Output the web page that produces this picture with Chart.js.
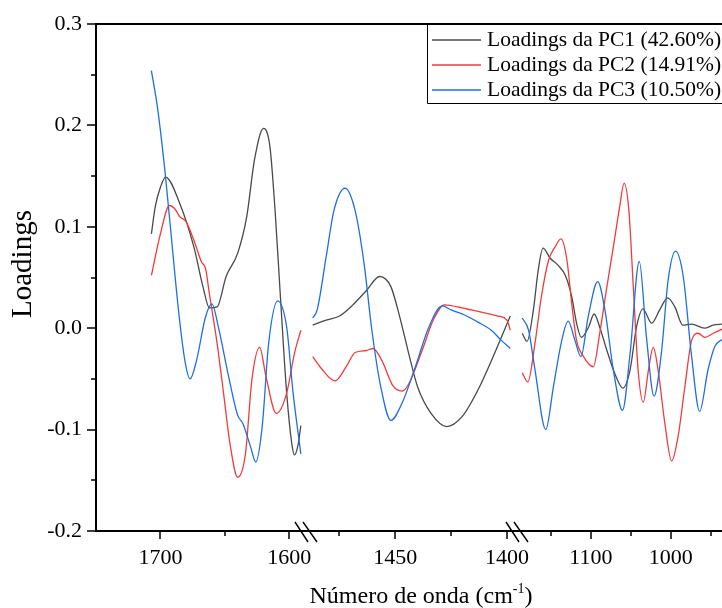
<!DOCTYPE html>
<html>
<head>
<meta charset="utf-8">
<title>Loadings PCA</title>
<script src="https://cdn.jsdelivr.net/npm/chart.js@4.4.1/dist/chart.umd.min.js"></script>
<style>
  html, body { margin: 0; padding: 0; background: #fff; }
</style>
</head>
<body>
<canvas id="loadingsChart" width="722" height="608"></canvas>
<script>
// series labels and colours
var SERIES = ["Loadings da PC1 (42.60%)", "Loadings da PC2 (14.91%)", "Loadings da PC3 (10.50%)"];
var COLORS = ["#4a4a4a", "#f23b3b", "#1f6fe3"];
var X_TITLE = "Número de onda (cm";
var X_TITLE_SUP = "-1";
var Y_TITLE = "Loadings";

// broken x axis: three wavenumber windows (cm-1)
var RANGE_A = [1750, 1587];
var RANGE_B = [1490, 1395.5];
var RANGE_C = [1192.5, 936];
var TICKS_A = [1700, 1650, 1600];
var TICKS_B = [1475, 1450, 1425, 1400];
var TICKS_C = [1150, 1100, 1050, 1000, 950];
var X_LABELS = [1700, 1600, 1450, 1400, 1100, 1000];
var Y_TICKS = [-0.2, -0.15, -0.1, -0.05, 0, 0.05, 0.1, 0.15, 0.2, 0.25, 0.3];
var Y_LABELS = [-0.2, -0.1, 0, 0.1, 0.2, 0.3];

// window A (1710 - 1590)
var PC1_A_WN = [1707, 1704, 1700, 1696, 1685, 1674, 1667, 1662, 1656, 1649, 1640, 1633, 1627, 1620, 1615, 1611, 1607, 1602, 1598, 1596, 1593, 1591];
var PC1_A = [0.093, 0.120, 0.139, 0.149, 0.123, 0.080, 0.041, 0.020, 0.021, 0.051, 0.074, 0.110, 0.166, 0.197, 0.179, 0.116, 0.034, -0.064, -0.114, -0.125, -0.114, -0.096];
var PC2_A_WN = [1707, 1700, 1693, 1689, 1685, 1680, 1673, 1668, 1665, 1662, 1656, 1651, 1646, 1640, 1634, 1629, 1623, 1618, 1610, 1602, 1596, 1591];
var PC2_A = [0.052, 0.093, 0.121, 0.118, 0.110, 0.105, 0.083, 0.065, 0.059, 0.034, -0.015, -0.064, -0.114, -0.147, -0.124, -0.051, -0.019, -0.048, -0.084, -0.064, -0.025, -0.002];
var PC3_A_WN = [1707, 1702, 1696, 1691, 1686, 1681, 1677, 1672, 1665, 1660, 1655, 1647, 1640, 1636, 1630, 1626, 1621, 1616, 1609, 1602, 1597, 1591];
var PC3_A = [0.254, 0.215, 0.149, 0.083, 0.018, -0.032, -0.050, -0.032, 0.011, 0.024, 0.001, -0.048, -0.086, -0.094, -0.117, -0.132, -0.097, -0.015, 0.027, 0.001, -0.064, -0.124];

// window B (1487 - 1398)
var PC1_B_WN = [1487, 1481, 1475, 1469, 1463, 1457, 1452, 1448, 1444, 1440, 1434, 1427, 1420, 1413, 1405, 1398.5];
var PC1_B = [0.003, 0.008, 0.012, 0.023, 0.037, 0.051, 0.041, 0.011, -0.025, -0.058, -0.084, -0.097, -0.087, -0.061, -0.022, 0.012];
var PC2_B_WN = [1487, 1483, 1477, 1472, 1468, 1463, 1460, 1456, 1451, 1447, 1444, 1438, 1433, 1428, 1420, 1416, 1410, 1404, 1400, 1398.5];
var PC2_B = [-0.028, -0.040, -0.052, -0.038, -0.024, -0.022, -0.020, -0.032, -0.057, -0.062, -0.055, -0.022, 0.008, 0.023, 0.020, 0.018, 0.015, 0.012, 0.008, -0.002];
var PC3_B_WN = [1487, 1485, 1481, 1477.5, 1472.5, 1468, 1464, 1460.5, 1456.5, 1452, 1447, 1441, 1435, 1429, 1425, 1419, 1413, 1407, 1402.5, 1398.5];
var PC3_B = [0.010, 0.018, 0.070, 0.116, 0.138, 0.116, 0.064, -0.002, -0.058, -0.091, -0.074, -0.038, 0.001, 0.022, 0.018, 0.013, 0.006, -0.002, -0.012, -0.020];

// window C (1186 - 936)
var PC1_C_WN = [1186, 1180, 1172, 1166, 1160, 1151, 1141, 1132, 1124, 1118, 1112, 1103, 1096, 1089, 1080, 1070, 1060, 1051, 1043, 1035, 1024, 1014, 1004, 995, 985, 974, 958, 947, 936];
var PC1_C = [-0.005, -0.013, 0.018, 0.057, 0.079, 0.069, 0.062, 0.052, 0.031, 0.005, -0.009, 0.001, 0.014, 0.001, -0.022, -0.045, -0.059, -0.041, 0.001, 0.019, 0.005, 0.018, 0.030, 0.021, 0.003, 0.004, 0.000, 0.003, 0.004];
var PC2_C_WN = [1186, 1179, 1170, 1162, 1153, 1145, 1137.5, 1130, 1124, 1118, 1110, 1097, 1089, 1080, 1072, 1064, 1058.5, 1052.5, 1047, 1041, 1034.5, 1028, 1022, 1016, 1007.5, 999, 991, 982.5, 974, 966, 957.5, 947, 936];
var PC2_C = [-0.044, -0.053, -0.015, 0.031, 0.067, 0.080, 0.088, 0.067, 0.024, -0.012, -0.027, -0.038, -0.005, 0.041, 0.080, 0.120, 0.143, 0.116, 0.041, -0.041, -0.073, -0.041, -0.019, -0.041, -0.094, -0.131, -0.107, -0.058, -0.012, -0.005, -0.009, -0.005, -0.001];
var PC3_C_WN = [1186, 1178, 1170, 1156.5, 1147, 1136.5, 1128.5, 1120, 1112.5, 1103.5, 1091.5, 1082.5, 1072, 1060.5, 1051, 1039.5, 1030.5, 1021, 1011.5, 1003.5, 994, 984.5, 974, 964, 953.5, 945, 936];
var PC3_C = [0.010, -0.002, -0.041, -0.100, -0.058, -0.012, 0.007, -0.012, -0.028, 0.011, 0.046, 0.018, -0.041, -0.081, -0.025, 0.066, -0.009, -0.067, -0.022, 0.047, 0.076, 0.051, -0.028, -0.082, -0.041, -0.018, -0.011];

var FONT = "'Liberation Serif', 'Times New Roman', serif";
Chart.defaults.font.family = FONT;
Chart.defaults.color = '#000';

function points(wn, vals) {
    return wn.map(function (x, i) { return { x: x, y: vals[i] }; });
}

function line(s, axis, wn, vals) {
    return {
        label: SERIES[s],
        data: points(wn, vals),
        xAxisID: axis,
        yAxisID: 'y',
        borderColor: COLORS[s],
        borderWidth: 1.3,
        pointRadius: 0,
        fill: false,
        cubicInterpolationMode: 'monotone',
        order: 2 - s
    };
}

function xAxis(range, tickList, weight) {
    return {
        type: 'linear',
        position: 'bottom',
        stack: 'wn',
        stackWeight: weight,
        reverse: true,
        min: range[1],
        max: range[0],
        afterBuildTicks: function (scale) {
            scale.ticks = tickList.map(function (v) { return { value: v }; });
        },
        afterFit: function (scale) {
            scale.height = 77;
            scale.paddingLeft = 0;
            scale.paddingRight = 0;
        },
        grid: { display: false, drawTicks: false },
        border: { display: false },
        ticks: {
            autoSkip: false,
            maxRotation: 0,
            padding: 14,
            font: { size: 22 },
            color: '#000',
            callback: function (v) { return X_LABELS.indexOf(v) >= 0 ? String(v) : ''; }
        }
    };
}

// axis frame, tick marks, break marks, axis titles and the boxed legend
var decorations = {
    id: 'decorations',
    afterDraw: function (chart) {
        var ctx = chart.ctx;
        var a = chart.chartArea;
        ctx.save();
        ctx.strokeStyle = '#000';
        ctx.lineWidth = 2;
        ctx.beginPath();
        ctx.moveTo(a.left, a.top); ctx.lineTo(a.right, a.top);
        ctx.moveTo(a.left, a.top - 1); ctx.lineTo(a.left, a.bottom);
        ctx.lineTo(a.right, a.bottom);
        ctx.stroke();

        var y = chart.scales.y;
        ctx.lineWidth = 1.5;
        ctx.beginPath();
        y.ticks.forEach(function (t) {
            var py = Math.round(y.getPixelForValue(t.value));
            var len = Y_LABELS.indexOf(t.value) >= 0 ? 9 : 5;
            ctx.moveTo(a.left - len, py); ctx.lineTo(a.left, py);
        });
        ['xa', 'xb', 'xc'].forEach(function (id) {
            var s = chart.scales[id];
            s.ticks.forEach(function (t) {
                var px = Math.round(s.getPixelForValue(t.value));
                var len = X_LABELS.indexOf(t.value) >= 0 ? 8 : 5;
                ctx.moveTo(px, a.bottom); ctx.lineTo(px, a.bottom + len);
            });
        });
        ctx.stroke();

        // break marks
        ctx.lineWidth = 1.4;
        ctx.beginPath();
        ['xb', 'xc'].forEach(function (id) {
            var bx = chart.scales[id].left;
            ctx.moveTo(bx - 11, a.bottom - 9); ctx.lineTo(bx + 2, a.bottom + 11);
            ctx.moveTo(bx - 3, a.bottom - 9); ctx.lineTo(bx + 11, a.bottom + 11);
        });
        ctx.stroke();

        // axis titles
        ctx.fillStyle = '#000';
        ctx.textBaseline = 'middle';
        ctx.textAlign = 'left';
        ctx.font = '24px ' + FONT;
        var w1 = ctx.measureText(X_TITLE).width;
        ctx.font = '14px ' + FONT;
        var w2 = ctx.measureText(X_TITLE_SUP).width;
        ctx.font = '24px ' + FONT;
        var w3 = ctx.measureText(')').width;
        var tx = 421 - (w1 + w2 + w3) / 2;
        var ty = 597;
        ctx.fillText(X_TITLE, tx, ty);
        ctx.font = '14px ' + FONT;
        ctx.fillText(X_TITLE_SUP, tx + w1, ty - 8);
        ctx.font = '24px ' + FONT;
        ctx.fillText(')', tx + w1 + w2, ty);

        ctx.save();
        ctx.translate(23, 264);
        ctx.rotate(-Math.PI / 2);
        ctx.textAlign = 'center';
        ctx.font = '29px ' + FONT;
        ctx.fillText(Y_TITLE, 0, 0);
        ctx.restore();

        // legend
        var lx = 427, ly = 23, lh = 80;
        ctx.fillStyle = '#fff';
        ctx.fillRect(lx, ly, a.right - lx, lh);
        ctx.lineWidth = 1;
        ctx.strokeStyle = '#000';
        ctx.beginPath();
        ctx.moveTo(lx + 0.5, ly); ctx.lineTo(lx + 0.5, ly + lh + 0.5); ctx.lineTo(a.right, ly + lh + 0.5);
        ctx.stroke();
        ctx.font = '21.5px ' + FONT;
        ctx.textBaseline = 'middle';
        ctx.textAlign = 'left';
        SERIES.forEach(function (name, i) {
            var ry = 40 + i * 25;
            ctx.strokeStyle = COLORS[i];
            ctx.lineWidth = 1.3;
            ctx.beginPath();
            ctx.moveTo(432, ry); ctx.lineTo(481, ry);
            ctx.stroke();
            ctx.fillStyle = '#000';
            ctx.fillText(name, 487, ry);
        });
        ctx.strokeStyle = '#000';
        ctx.lineWidth = 2;
        ctx.beginPath();
        ctx.moveTo(a.left, a.top); ctx.lineTo(a.right, a.top);
        ctx.stroke();
        ctx.restore();
    }
};

var ctxL = document.getElementById('loadingsChart').getContext('2d');
var loadingsChart = new Chart(ctxL, {
    type: 'line',
    plugins: [decorations],
    data: {
        datasets: [
            line(0, 'xa', PC1_A_WN, PC1_A), line(1, 'xa', PC2_A_WN, PC2_A), line(2, 'xa', PC3_A_WN, PC3_A),
            line(0, 'xb', PC1_B_WN, PC1_B), line(1, 'xb', PC2_B_WN, PC2_B), line(2, 'xb', PC3_B_WN, PC3_B),
            line(0, 'xc', PC1_C_WN, PC1_C), line(1, 'xc', PC2_C_WN, PC2_C), line(2, 'xc', PC3_C_WN, PC3_C)
        ]
    },
    options: {
        responsive: false,
        animation: false,
        devicePixelRatio: 1,
        layout: { padding: { top: 24, right: 0, bottom: 0, left: 0 } },
        plugins: {
            legend: { display: false },
            tooltip: { enabled: false }
        },
        scales: {
            xa: xAxis(RANGE_A, TICKS_A, 210),
            xb: xAxis(RANGE_B, TICKS_B, 211),
            xc: xAxis(RANGE_C, TICKS_C, 205),
            y: {
                type: 'linear',
                position: 'left',
                min: -0.2,
                max: 0.3,
                afterBuildTicks: function (scale) {
                    scale.ticks = Y_TICKS.map(function (v) { return { value: v }; });
                },
                afterFit: function (scale) {
                    scale.width = 96;
                    scale.paddingTop = 0;
                    scale.paddingBottom = 0;
                },
                grid: { display: false, drawTicks: false },
                border: { display: false },
                ticks: {
                    padding: 14,
                    font: { size: 22 },
                    color: '#000',
                    callback: function (v) { return Y_LABELS.indexOf(v) >= 0 ? v.toFixed(1) : ''; }
                }
            }
        }
    }
});
</script>
</body>
</html>
